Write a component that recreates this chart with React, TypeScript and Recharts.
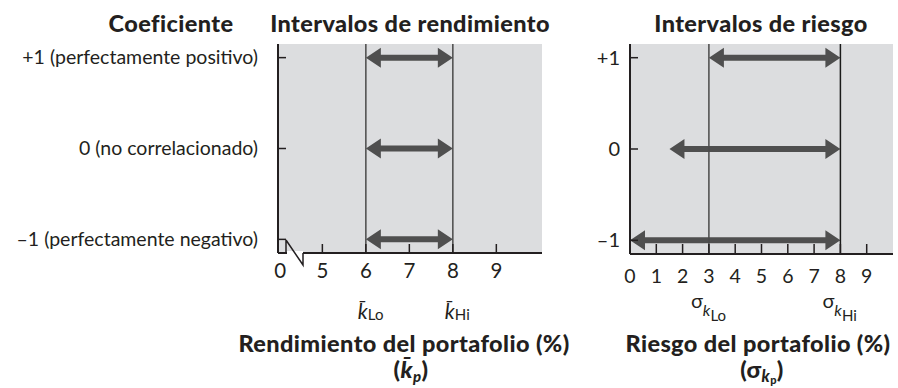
import React from "react";
import {
  ScatterChart,
  Scatter,
  XAxis,
  YAxis,
  CartesianGrid,
  ReferenceLine,
  ReferenceDot,
} from "recharts";

// rows: correlation coefficient
const coefValues = [1, 0, -1];
const coefLabels = [
  "+1 (perfectamente positivo)",
  "0 (no correlacionado)",
  "–1 (perfectamente negativo)",
];
const riskCoefLabels = ["+1", "0", "–1"];

// return ranges (%)
const returnLo = [6, 6, 6];
const returnHi = [8, 8, 8];
const returnTicks = [0, 5, 6, 7, 8, 9];
const returnBounds = [6, 8];

// risk ranges (%)
const riskLo = [3, 1.5, 0];
const riskHi = [8, 8, 8];
const riskTicks = [0, 1, 2, 3, 4, 5, 6, 7, 8, 9];
const riskBounds = [3, 8];

const boundSubs = ["Lo", "Hi"];

// left axis is broken: 0 is drawn just right of the axis start
const ZERO_AT = 4.03;
const RET_DOMAIN = [3.98, 10.05];
const RISK_DOMAIN = [0, 10];
const COEF_DOMAIN = [-1.15, 1.15];

const FONT = "Lato, 'Noto Sans', sans-serif";
const INK = "#231f20";
const BG = "#dcdddf";
const ARROW = "#4f4f4f";

const returnRows = coefValues.map((c, i) => ({ coef: c, lo: returnLo[i], hi: returnHi[i] }));
const riskRows = coefValues.map((c, i) => ({ coef: c, lo: riskLo[i], hi: riskHi[i] }));

const DoubleArrow = (p: any) => {
  const y = p.y1;
  const a = Math.min(p.x1, p.x2);
  const b = Math.max(p.x1, p.x2);
  const L = 15, H = 10, T = 3;
  const d = `M${a},${y} L${a + L},${y - H} L${a + L},${y - T} L${b - L},${y - T} L${b - L},${y - H} L${b},${y} L${b - L},${y + H} L${b - L},${y + T} L${a + L},${y + T} L${a + L},${y + H} Z`;
  return <path d={d} fill={ARROW} />;
};

const AxisBreak = (p: any) => {
  const { cx, cy } = p;
  return (
    <g>
      <rect x={cx + 9} y={cy - 2} width={16} height={4} fill="#fff" />
      <path
        d={`M${cx + 8},${cy - 13} V${cy} M${cx + 8},${cy - 13} L${cx + 25},${cy + 12} V${cy}`}
        stroke={INK}
        strokeWidth={1.5}
        fill="none"
      />
    </g>
  );
};

const CoefTick = (labels: string[], gap: number, size: number) => (p: any) => {
  const { x, y, payload } = p;
  const idx = coefValues.indexOf(payload.value);
  return (
    <g>
      <line x1={x} x2={x + 8} y1={y} y2={y} stroke={INK} strokeWidth={1.5} />
      <text x={x - gap} y={y} dy="0.35em" textAnchor="end" fontSize={size} fill={INK} fontFamily={FONT}>
        {labels[idx]}
      </text>
    </g>
  );
};

const ReturnTick = (p: any) => {
  const { x, y, payload } = p;
  const v = payload.value;
  const isZero = v === ZERO_AT;
  const b = returnBounds.indexOf(v);
  return (
    <g fontFamily={FONT} fill={INK}>
      {!isZero && <line x1={x} x2={x} y1={y - 9} y2={y} stroke={INK} strokeWidth={1.5} />}
      <text x={x} y={y + 25} textAnchor="middle" fontSize={20.5}>
        {isZero ? "0" : v}
      </text>
      {b >= 0 && (
        <text x={x - 8} y={y + 66} fontSize={21}>
          <tspan fontStyle="italic">k̄</tspan>
          <tspan fontSize={15} dy={1}>{boundSubs[b]}</tspan>
        </text>
      )}
    </g>
  );
};

const RiskTick = (p: any) => {
  const { x, y, payload } = p;
  const v = payload.value;
  const b = riskBounds.indexOf(v);
  return (
    <g fontFamily={FONT} fill={INK}>
      {v !== 0 && <line x1={x} x2={x} y1={y - 10} y2={y} stroke={INK} strokeWidth={1.5} />}
      <text x={x} y={y + 29} textAnchor="middle" fontSize={19.5}>
        {v}
      </text>
      {b >= 0 && (
        <text x={x - 18} y={y + 54} fontSize={20}>
          σ<tspan fontStyle="italic" fontSize={16} dy={8}>k</tspan>
          <tspan fontSize={15} dy={5}>{boundSubs[b]}</tspan>
        </text>
      )}
    </g>
  );
};

export default function App() {
  return (
    <div style={{ position: "absolute", left: 0, top: 0, width: 898, height: 388, background: "#fff" }}>
      <div style={{ position: "absolute", left: 0, top: 0 }}>
        <ScatterChart width={560} height={388} margin={{ top: 44, right: 18, bottom: 0, left: 0 }}>
          <CartesianGrid horizontal={false} vertical={false} fill={BG} stroke="none" />
          <XAxis
            type="number"
            dataKey="lo"
            domain={RET_DOMAIN}
            allowDataOverflow
            ticks={returnTicks.map((t) => (t === 0 ? ZERO_AT : t))}
            tick={ReturnTick}
            tickLine={false}
            tickSize={0}
            tickMargin={0}
            height={135}
            axisLine={{ stroke: INK, strokeWidth: 2 }}
          />
          <YAxis
            type="number"
            dataKey="coef"
            domain={COEF_DOMAIN}
            allowDataOverflow
            ticks={coefValues}
            tick={CoefTick(coefLabels, 20, 19.5)}
            tickLine={false}
            tickSize={0}
            tickMargin={0}
            width={278}
            axisLine={{ stroke: INK, strokeWidth: 2 }}
          />
          <Scatter data={returnRows} isAnimationActive={false} shape={() => <g />} />
          {returnRows.map((r) => (
            <ReferenceLine
              key={"ra" + r.coef}
              segment={[{ x: r.lo, y: r.coef }, { x: r.hi, y: r.coef }]}
              shape={DoubleArrow}
            />
          ))}
          {returnBounds.map((v) => (
            <ReferenceLine key={"rb" + v} x={v} stroke="#4a4a4a" strokeWidth={1.5} />
          ))}
          <ReferenceDot x={RET_DOMAIN[0]} y={COEF_DOMAIN[0]} ifOverflow="visible" shape={AxisBreak} />
        </ScatterChart>
      </div>
      <div style={{ position: "absolute", left: 560, top: 0 }}>
        <ScatterChart width={338} height={388} margin={{ top: 44, right: 5, bottom: 0, left: 0 }}>
          <CartesianGrid horizontal={false} vertical={false} fill={BG} stroke="none" />
          <XAxis
            type="number"
            dataKey="lo"
            domain={RISK_DOMAIN}
            allowDataOverflow
            ticks={riskTicks}
            tick={RiskTick}
            tickLine={false}
            tickSize={0}
            tickMargin={0}
            height={134}
            axisLine={{ stroke: INK, strokeWidth: 2 }}
          />
          <YAxis
            type="number"
            dataKey="coef"
            domain={COEF_DOMAIN}
            allowDataOverflow
            ticks={coefValues}
            tick={CoefTick(riskCoefLabels, 10, 20)}
            tickLine={false}
            tickSize={0}
            tickMargin={0}
            width={70}
            axisLine={{ stroke: INK, strokeWidth: 2 }}
          />
          <Scatter data={riskRows} isAnimationActive={false} shape={() => <g />} />
          {riskRows.map((r) => (
            <ReferenceLine
              key={"ka" + r.coef}
              segment={[{ x: r.lo, y: r.coef }, { x: r.hi, y: r.coef }]}
              shape={DoubleArrow}
            />
          ))}
          <ReferenceLine x={riskBounds[0]} stroke="#4a4a4a" strokeWidth={1.5} />
          <ReferenceLine x={riskBounds[1]} stroke="#1a1a1a" strokeWidth={1.5} />
        </ScatterChart>
      </div>
      <svg
        width={898}
        height={388}
        style={{ position: "absolute", left: 0, top: 0, pointerEvents: "none" }}
        fontFamily={FONT}
        fill={INK}
        fontWeight={900}
        fontSize={23.5}
        letterSpacing={0.4}
      >
        <text x={171} y={32} textAnchor="middle">Coeficiente</text>
        <text x={410} y={32} textAnchor="middle">Intervalos de rendimiento</text>
        <text x={761} y={32} textAnchor="middle">Intervalos de riesgo</text>
        <text x={404} y={352} textAnchor="middle">Rendimiento del portafolio (%)</text>
        <text x={411} y={378} textAnchor="middle">
          (<tspan fontStyle="italic">k̄</tspan>
          <tspan fontSize={15} dy={4} fontStyle="italic">p</tspan>
          <tspan dy={-4}>)</tspan>
        </text>
        <text x={758} y={352} textAnchor="middle">Riesgo del portafolio (%)</text>
        <text x={762} y={378} textAnchor="middle">
          (σ<tspan fontSize={16} dy={4} fontStyle="italic">k</tspan>
          <tspan fontSize={11} dy={2}>p</tspan>
          <tspan dy={-6}>)</tspan>
        </text>
      </svg>
    </div>
  );
}
